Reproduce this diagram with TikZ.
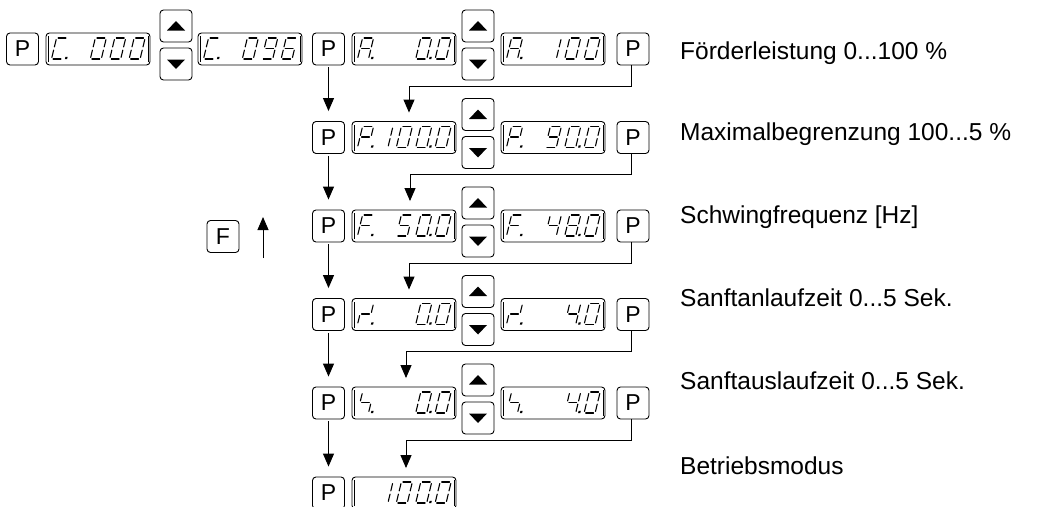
\documentclass[tikz,border=0pt]{standalone}
\usepackage{fontspec}
\setmainfont{Liberation Sans}
\usetikzlibrary{arrows.meta}

\tikzset{
  key/.style={draw, rounded corners=3.5pt, minimum width=32pt, minimum height=32pt,
              inner sep=0pt, line width=0.9pt, font=\fontsize{23}{23}\selectfont},
  lcd/.style={draw, line width=0.9pt, rounded corners=3.5pt,
              minimum width=104pt, minimum height=32pt, inner sep=0pt,
              path picture={
                \draw[line width=0.5pt]
                  ([shift={(2.2pt,3pt)}]path picture bounding box.south west) --
                  ([shift={(2.2pt,-3pt)}]path picture bounding box.north west);
                \draw[line width=0.5pt]
                  ([shift={(-2.2pt,3pt)}]path picture bounding box.south east) --
                  ([shift={(-2.2pt,-3pt)}]path picture bounding box.north east);}},
  flow/.style={line width=1pt, -{Triangle[length=13pt,width=11pt]}},
  seg/.style={line width=1.1pt, line cap=round},
  caption/.style={anchor=base west, inner sep=0pt, font=\fontsize{24.5}{24.5}\selectfont},
}

% the seven segments of one slanted digit cell (origin = bottom left, y downwards)
\def\sga{\draw[seg] (1.6,-21) -- (9.4,-21);}
\def\sgb{\draw[seg] (11,-19.4) -- (11,-12.1);}
\def\sgc{\draw[seg] (11,-8.9) -- (11,-1.6);}
\def\sgd{\draw[seg] (1.6,0) -- (9.4,0);}
\def\sge{\draw[seg] (0,-8.9) -- (0,-1.6);}
\def\sgf{\draw[seg] (0,-19.4) -- (0,-12.1);}
\def\sgg{\draw[seg] (1.6,-10.5) -- (9.4,-10.5);}
\def\sgp{\fill (13.4,-2.2) rectangle (15.6,0);}

% #1 display node, #2 digit position 1..5, #3 segment list
\newcommand{\glyph}[3]{%
  \begin{scope}[shift={(#1.center)}, shift={(-65.9+19.4*#2,10)}, xslant=0.24]
    \foreach \s in {#3} {\csname sg\s\endcsname}
  \end{scope}}

% key with an arrow triangle: #1 name, #2 position, #3 = 1 up / -1 down
\newcommand{\arrowkey}[3]{%
  \node[key] (#1) at (#2) {};
  \fill ([shift={(-9,4.5*#3)}]#1.center) -- ([shift={(9,4.5*#3)}]#1.center)
        -- ([shift={(0,-5*#3)}]#1.center) -- cycle;}

\begin{document}
\begin{tikzpicture}[x=1pt, y=-1pt]
\useasboundingbox (0,0) rectangle (1040,506);

% ---------- code entry row ----------
\node[key] (p0) at (22.5,49) {P};
\node[lcd] (c0) at (98,49) {};
\arrowkey{cu}{176,26}{1}
\arrowkey{cd}{176,64}{-1}
\node[lcd] (c1) at (250,49) {};
\glyph{c0}{1}{a,d,e,f,p}
\glyph{c0}{3}{a,b,c,d,e,f}
\glyph{c0}{4}{a,b,c,d,e,f}
\glyph{c0}{5}{a,b,c,d,e,f}
\glyph{c1}{1}{a,d,e,f,p}
\glyph{c1}{3}{a,b,c,d,e,f}
\glyph{c1}{4}{a,b,c,d,f,g}
\glyph{c1}{5}{a,c,d,e,f,g}

% ---------- parameter rows ----------
\foreach \r/\y in {1/49, 2/137.5, 3/226, 4/314.5, 5/403} {
  \node[key] (L\r) at (328.5,\y) {P};
  \node[lcd] (A\r) at (404,\y) {};
  \arrowkey{U\r}{478,\y-23}{1}
  \arrowkey{W\r}{478,\y+15}{-1}
  \node[lcd] (B\r) at (553,\y) {};
  \node[key] (R\r) at (633,\y) {P};
}
\node[key] (L6) at (328.5,493) {P};
\node[lcd] (A6) at (404,493) {};

% Förderleistung
\glyph{A1}{1}{a,b,c,e,f,g,p}
\glyph{A1}{4}{a,b,c,d,e,f,p}
\glyph{A1}{5}{a,b,c,d,e,f}
\glyph{B1}{1}{a,b,c,e,f,g,p}
\glyph{B1}{3}{b,c}
\glyph{B1}{4}{a,b,c,d,e,f}
\glyph{B1}{5}{a,b,c,d,e,f}
% Maximalbegrenzung
\glyph{A2}{1}{a,b,e,f,g,p}
\glyph{A2}{2}{b,c}
\glyph{A2}{3}{a,b,c,d,e,f}
\glyph{A2}{4}{a,b,c,d,e,f,p}
\glyph{A2}{5}{a,b,c,d,e,f}
\glyph{B2}{1}{a,b,e,f,g,p}
\glyph{B2}{3}{a,b,c,d,f,g}
\glyph{B2}{4}{a,b,c,d,e,f,p}
\glyph{B2}{5}{a,b,c,d,e,f}
% Schwingfrequenz
\glyph{A3}{1}{a,e,f,g,p}
\glyph{A3}{3}{a,c,d,f,g}
\glyph{A3}{4}{a,b,c,d,e,f,p}
\glyph{A3}{5}{a,b,c,d,e,f}
\glyph{B3}{1}{a,e,f,g,p}
\glyph{B3}{3}{b,c,f,g}
\glyph{B3}{4}{a,b,c,d,e,f,g,p}
\glyph{B3}{5}{a,b,c,d,e,f}
% Sanftanlauf
\glyph{A4}{1}{b,e,g,p}
\glyph{A4}{4}{a,b,c,d,e,f,p}
\glyph{A4}{5}{a,b,c,d,e,f}
\glyph{B4}{1}{b,e,g,p}
\glyph{B4}{4}{b,c,f,g,p}
\glyph{B4}{5}{a,b,c,d,e,f}
% Sanftauslauf
\glyph{A5}{1}{c,f,g,p}
\glyph{A5}{4}{a,b,c,d,e,f,p}
\glyph{A5}{5}{a,b,c,d,e,f}
\glyph{B5}{1}{c,f,g,p}
\glyph{B5}{4}{b,c,f,g,p}
\glyph{B5}{5}{a,b,c,d,e,f}
% Betriebsmodus
\glyph{A6}{2}{b,c}
\glyph{A6}{3}{a,b,c,d,e,f}
\glyph{A6}{4}{a,b,c,d,e,f,p}
\glyph{A6}{5}{a,b,c,d,e,f}

% ---------- flow arrows ----------
\foreach \r/\n/\dx in {1/2/5, 2/3/6, 3/4/5, 4/5/2, 5/6/2} {
  \draw[flow, shorten <=2pt, shorten >=10pt] (L\r.south) -- (L\n.north);
  \coordinate (T\n) at ([xshift=\dx pt]A\n.north);
  \draw[flow, shorten >=8.5pt] ([xshift=-1.5pt]R\r.south) -- ++(0,21) -| (T\n);
}

% ---------- F key ----------
\node[key] (fk) at (223,236.5) {F};
\coordinate (fa) at (263,258);
\coordinate (fb) at (263,217);
\draw[flow] (fa) -- (fb);

% ---------- captions ----------
\node[caption] (t1) at (680,59) {Förderleistung 0...100 \%};
\node[caption] (t2) at (680,140) {Maximalbegrenzung 100...5 \%};
\node[caption] (t3) at (680,223) {Schwingfrequenz [Hz]};
\node[caption] (t4) at (680,306) {Sanftanlaufzeit 0...5 Sek.};
\node[caption] (t5) at (680,389) {Sanftauslaufzeit 0...5 Sek.};
\node[caption] (t6) at (680,474) {Betriebsmodus};
\end{tikzpicture}
\end{document}
